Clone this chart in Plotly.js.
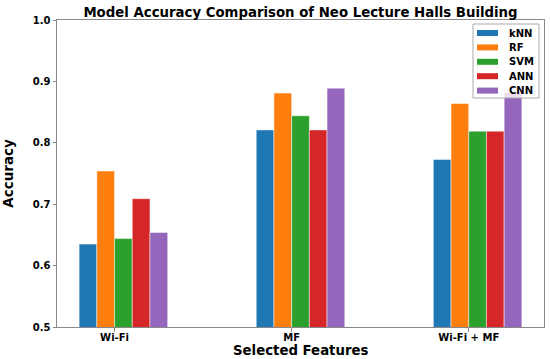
<!DOCTYPE html>
<html>
<head>
<meta charset="utf-8">
<script src="https://cdn.plot.ly/plotly-3.0.1.min.js"></script>
<style>html,body{margin:0;padding:0;background:#fff}#chart{width:550px;height:359px}</style>
</head>
<body>
<div id="chart"></div>
<script>
const categories = ["Wi-Fi", "MF", "Wi-Fi + MF"];
const models = ["kNN", "RF", "SVM", "ANN", "CNN"];
const kNN = [0.635, 0.821, 0.773];
const RF  = [0.754, 0.881, 0.864];
const SVM = [0.644, 0.844, 0.819];
const ANN = [0.709, 0.821, 0.819];
const CNN = [0.654, 0.889, 0.882];
const series = [kNN, RF, SVM, ANN, CNN];
const colors = ["#1f77b4", "#ff7f0e", "#2ca02c", "#d62728", "#9467bd"];
const barWidth = 0.1;

const W = 550, H = 359;
const M = {l: 57, r: 6, t: 20, b: 32};
const PW = W - M.l - M.r, PH = H - M.t - M.b;
const px = x => (x - M.l) / PW;
const py = y => 1 - (y - M.t) / PH;

const font = "DejaVu Sans, sans-serif";
const traces = models.map((m, i) => ({
  type: "bar",
  name: m,
  x: categories,
  y: series[i],
  width: barWidth,
  offset: -0.2 + i * barWidth,
  marker: {color: colors[i], line: {color: "rgba(255,255,255,0.8)", width: 0.6}},
  hoverinfo: "x+y+name"
}));

// custom legend (matplotlib style) built from models/colors
const shapes = [{
  type: "rect", xref: "paper", yref: "paper",
  x0: px(473), x1: px(539), y0: py(24), y1: py(98),
  fillcolor: "rgba(255,255,255,0.8)", line: {color: "#aaa", width: 1}, layer: "above"
}];
const annotations = [];
models.forEach((m, i) => {
  const yc = 33 + i * 14.4;
  shapes.push({
    type: "rect", xref: "paper", yref: "paper",
    x0: px(477), x1: px(498), y0: py(yc - 3), y1: py(yc + 3),
    fillcolor: colors[i], line: {width: 0}, layer: "above"
  });
  annotations.push({
    xref: "paper", yref: "paper", x: px(507), y: py(yc),
    xanchor: "left", yanchor: "middle", showarrow: false,
    text: "<b>" + m + "</b>", font: {size: 10, family: font, color: "#000"}
  });
});
// x-axis title placed at its pixel position
annotations.push({
  xref: "paper", yref: "paper", x: 0.5, y: py(350.5),
  xanchor: "center", yanchor: "middle", showarrow: false,
  text: "<b>Selected Features</b>", font: {size: 13.3, family: font, color: "#000"}
});

const layout = {
  width: W, height: H,
  margin: M,
  paper_bgcolor: "#fff", plot_bgcolor: "#fff",
  font: {family: font, color: "#000"},
  title: {
    text: "<b>Model Accuracy Comparison of Neo Lecture Halls Building</b>",
    font: {size: 13.3, family: font, color: "#000"},
    x: 0.5, xref: "paper", xanchor: "center",
    y: 1, yref: "paper", yanchor: "bottom", pad: {b: 3}
  },
  barmode: "overlay",
  showlegend: false,
  shapes: shapes,
  annotations: annotations,
  xaxis: {
    type: "category",
    range: [-0.325, 2.425],
    tickvals: categories,
    ticktext: categories.map(c => "<b>" + c + "</b>"),
    tickfont: {size: 10, family: font, color: "#000"},
    ticks: "outside", ticklen: 3.5, tickcolor: "#888", tickwidth: 1,
    ticklabelstandoff: -3,
    showline: true, linecolor: "#888", linewidth: 1, mirror: true,
    showgrid: false, zeroline: false
  },
  yaxis: {
    range: [0.5, 1.0],
    tickvals: [0.5, 0.6, 0.7, 0.8, 0.9, 1.0],
    ticktext: ["<b>0.5</b>", "<b>0.6</b>", "<b>0.7</b>", "<b>0.8</b>", "<b>0.9</b>", "<b>1.0</b>"],
    tickfont: {size: 10, family: font, color: "#000"},
    ticks: "outside", ticklen: 3.5, tickcolor: "#888", tickwidth: 1,
    showline: true, linecolor: "#888", linewidth: 1, mirror: true,
    showgrid: false, zeroline: false,
    title: {text: "<b>Accuracy</b>", font: {size: 13.5, family: font, color: "#000"}, standoff: 16}
  }
};

Plotly.newPlot("chart", traces, layout, {displayModeBar: false, staticPlot: true});
</script>
</body>
</html>
